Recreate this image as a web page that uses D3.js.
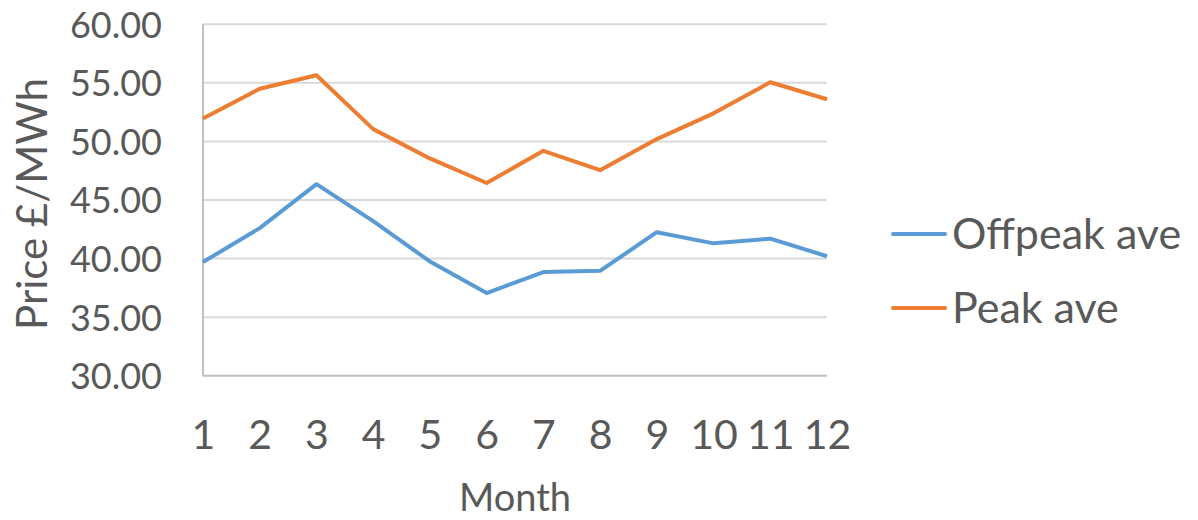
<!DOCTYPE html>
<html>
<head>
<meta charset="utf-8">
<script src="https://cdn.jsdelivr.net/npm/d3@7"></script>
<style>
  body { margin: 0; background: #fff; }
  text { font-family: Lato, "Open Sans", sans-serif; fill: #595959; }
</style>
</head>
<body>
<div class="chart"></div>
<script>
// data
var months = [1, 2, 3, 4, 5, 6, 7, 8, 9, 10, 11, 12];
var offpeak = [39.7, 42.6, 46.35, 43.2, 39.75, 37.05, 38.85, 38.95, 42.25, 41.3, 41.7, 40.2];
var peak = [51.95, 54.5, 55.65, 51.05, 48.55, 46.45, 49.2, 47.55, 50.2, 52.4, 55.05, 53.6];
var yTicks = [30, 35, 40, 45, 50, 55, 60];
var seriesNames = ["Offpeak ave", "Peak ave"];
var seriesColors = ["#5B9BD5", "#ED7D31"];

var W = 1198, H = 520;
var margin = {left: 203, right: 371, top: 24.3, bottom: 144.3};

var svg = d3.select(".chart").append("svg")
    .attr("width", W)
    .attr("height", H);

var x = d3.scaleLinear()
    .domain([1, 12])
    .range([margin.left, W - margin.right]);

var y = d3.scaleLinear()
    .domain([30, 60])
    .range([H - margin.bottom, margin.top]);

// horizontal gridlines
svg.append("g")
  .selectAll("line")
  .data(yTicks.slice(1))
  .enter().append("line")
    .attr("x1", x(1))
    .attr("x2", x(12))
    .attr("y1", function(d) { return y(d); })
    .attr("y2", function(d) { return y(d); })
    .attr("stroke", "#D9D9D9")
    .attr("stroke-width", 2);

// axis lines (left + bottom)
svg.append("line")
    .attr("x1", x(1)).attr("x2", x(1))
    .attr("y1", y(60)).attr("y2", y(30))
    .attr("stroke", "#BFBFBF").attr("stroke-width", 2);
svg.append("line")
    .attr("x1", x(1)).attr("x2", x(12))
    .attr("y1", y(30)).attr("y2", y(30))
    .attr("stroke", "#BFBFBF").attr("stroke-width", 2);

// y tick labels
var yAxis = d3.axisLeft(y)
    .tickValues(yTicks)
    .tickSize(0)
    .tickPadding(41)
    .tickFormat(d3.format(".2f"));
var gy = svg.append("g")
    .attr("transform", "translate(" + x(1) + ",0)")
    .call(yAxis);
gy.select(".domain").remove();
gy.selectAll("text")
    .attr("font-size", 36)
    .attr("font-family", null)
    .attr("dy", "0.36em");

// x tick labels
var xAxis = d3.axisBottom(x)
    .tickValues(months)
    .tickSize(0)
    .tickPadding(44)
    .tickFormat(d3.format("d"));
var gx = svg.append("g")
    .attr("transform", "translate(0," + y(30) + ")")
    .call(xAxis);
gx.select(".domain").remove();
gx.selectAll("text")
    .attr("font-size", 41)
    .attr("font-family", null);

// axis titles
svg.append("text")
    .attr("x", 515)
    .attr("y", 511)
    .attr("text-anchor", "middle")
    .attr("font-size", 38)
    .text("Month");

svg.append("text")
    .attr("transform", "translate(47,204) rotate(-90)")
    .attr("text-anchor", "middle")
    .attr("font-size", 42)
    .text("Price £/MWh");

// lines
var line = d3.line()
    .x(function(d, i) { return x(months[i]); })
    .y(function(d) { return y(d); });

[offpeak, peak].forEach(function(vals, i) {
  svg.append("path")
      .datum(vals)
      .attr("d", line)
      .attr("fill", "none")
      .attr("stroke", seriesColors[i])
      .attr("stroke-width", 4)
      .attr("stroke-linejoin", "round");
});

// legend
var legend = svg.append("g")
  .selectAll("g")
  .data(seriesNames)
  .enter().append("g")
    .attr("transform", function(d, i) { return "translate(893," + (234 + i * 74) + ")"; });
legend.append("line")
    .attr("x1", 0).attr("x2", 52)
    .attr("stroke", function(d, i) { return seriesColors[i]; })
    .attr("stroke-width", 4)
    .attr("stroke-linecap", "round");
legend.append("text")
    .attr("x", 59)
    .attr("y", 15)
    .attr("font-size", 43)
    .text(function(d) { return d; });
</script>
</body>
</html>
